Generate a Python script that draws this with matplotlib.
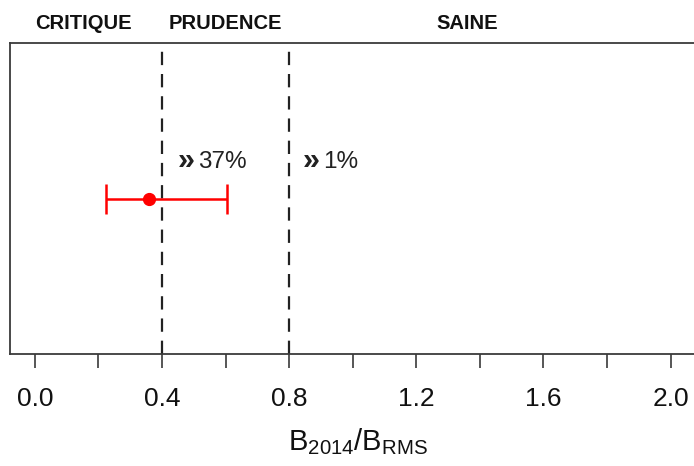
import matplotlib
matplotlib.use("Agg")
import matplotlib.pyplot as plt
import matplotlib.transforms as mtransforms

plt.rcParams['font.family'] = ['Liberation Sans', 'DejaVu Sans']
plt.rcParams['mathtext.fontset'] = 'custom'
plt.rcParams['mathtext.rm'] = 'Liberation Sans'
plt.rcParams['mathtext.it'] = 'Liberation Sans:italic'
plt.rcParams['mathtext.bf'] = 'Liberation Sans:bold'

# ---- data ----
thresholds = [0.4, 0.8]
zone_labels = ["CRITIQUE", "PRUDENCE", "SAINE"]
zone_centers = [0.152, 0.6, 1.36]
estimate = [0.359]
lower = [0.225]
upper = [0.603]
prob_values = ["37%", "1%"]
prob_x = [0.45, 0.843]
xticks_major = [0.0, 0.4, 0.8, 1.2, 1.6, 2.0]
xtick_labels = ["0.0", "0.4", "0.8", "1.2", "1.6", "2.0"]
xticks_minor = [0.2, 0.6, 1.0, 1.4, 1.8]

W, H = 694, 466
fig = plt.figure(figsize=(W / 100, H / 100), dpi=100)
left_px, right_px, top_px, bot_px = 9.5, 696, 43, 354
ax = fig.add_axes([left_px / W, 1 - bot_px / H, (right_px - left_px) / W, (bot_px - top_px) / H])

ax.set_xlim(-0.08, 2.08)
ax.set_ylim(0, 1)

for s in ax.spines.values():
    s.set_color('#3a3a3a')
    s.set_linewidth(1.3)

# threshold lines
for t in thresholds:
    ax.axvline(t, color='#222222', lw=1.6, linestyle=(0, (6, 4)), zorder=1)

# estimate with interval
ax.errorbar(estimate, [0.5],
            xerr=[[e - l for e, l in zip(estimate, lower)], [u - e for e, u in zip(estimate, upper)]],
            fmt='o', color='#ff0000', ecolor='#ff0000', markersize=8.5, elinewidth=1.8,
            capsize=11, capthick=1.8, zorder=3)

trans = mtransforms.blended_transform_factory(ax.transData, ax.transAxes)
for lab, xc in zip(zone_labels, zone_centers):
    ax.text(xc, 1.0627, lab, transform=trans, ha='center', va='center',
            fontsize=14.5, fontweight='bold', color='#111111')

for val, xp in zip(prob_values, prob_x):
    ax.text(xp, 0.594, "»", transform=trans, ha='left', va='baseline',
            fontsize=22, fontweight='bold', color='#222222')
    ax.annotate(val, xy=(xp, 0.597), xycoords=trans, xytext=(14.5, 0),
                textcoords='offset points', ha='left', va='baseline',
                fontsize=17.5, color='#222222')

ax.set_yticks([])
ax.set_xticks(xticks_major)
ax.set_xticklabels(xtick_labels)
ax.set_xticks(xticks_minor, minor=True)
ax.tick_params(axis='x', which='both', direction='out', length=10, width=1.2,
               color='#3a3a3a', pad=13.5, labelsize=19, labelcolor='#111111')
ax.tick_params(axis='x', which='minor', labelbottom=False)

ax.set_xlabel(r'$\mathregular{B_{2014}/B_{RMS}}$', fontsize=21, color='#111111',
              va='center')
ax.xaxis.set_label_coords((358 - left_px) / (right_px - left_px), -(442 - bot_px) / (bot_px - top_px))

fig.savefig('out.png', dpi=100)
